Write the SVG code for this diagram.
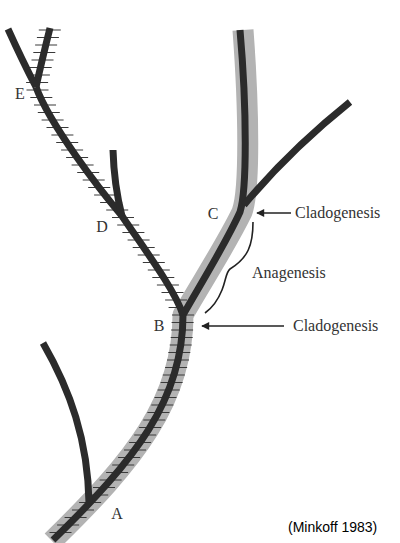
<svg xmlns="http://www.w3.org/2000/svg" width="400" height="543" viewBox="0 0 400 543">
<style>
.band{fill:none;stroke:#b3b3b3;stroke-width:21;stroke-linecap:butt;stroke-linejoin:round}
.hatch{fill:none;stroke:#3a3a3a;stroke-width:1.2}
.line{fill:none;stroke:#2b2b2b;stroke-width:7;stroke-linecap:butt;stroke-linejoin:round}
.lbl{font-family:"Liberation Serif","Times New Roman",serif;font-size:16px;fill:#333}
.arrow{fill:none;stroke:#222;stroke-width:1.6}
.brace{fill:none;stroke:#222;stroke-width:1.6}
</style>
<defs>
<marker id="ah" viewBox="0 0 10 10" refX="9" refY="5" markerWidth="10" markerHeight="8" markerUnits="userSpaceOnUse" orient="auto">
<path d="M0,0 L10,5 L0,10 Z" fill="#222"/>
</marker>
</defs>
<rect width="400" height="543" fill="#fff"/>
<g id="connectors">
<path class="band" d="M52,541 C135,460 183,400 183,315 C200,285 226,245 242,212 C250,190 249,110 243,30"/>
<path class="hatch" d="M38.8,30h22M36.9,37.5h22M35.1,45h22M33.3,52.5h22M31.5,60h22M29.7,67.5h22M27.9,75h22M26.1,82.5h22M26.5,90h22M30.3,97.5h22M34,105h22M37.8,112.5h22M41.6,120h22M46.5,127.5h22M51.4,135h22M56.2,142.5h22M61.1,150h22M66.1,157.5h22M71.6,165h22M77.2,172.5h22M82.7,180h22M88.2,187.5h22M94.1,195h22M100.1,202.5h22M106.2,210h22M112,217.5h22M117.2,225h22M122.4,232.5h22M127.6,240h22M132.7,247.5h22M137.7,255h22M142.8,262.5h22M147.8,270h22M152.3,277.5h22M156.9,285h22M161.5,292.5h22M165.1,300h22M168.6,307.5h22M172,315h22M171.6,322.5h22M171.1,330h22M170.7,337.5h22M169.7,345h22M168.3,352.5h22M167,360h22M165.1,367.5h22M162.8,375h22M160.6,382.5h22M157.7,390h22M154.5,397.5h22M151.3,405h22M147.4,412.5h22M143.3,420h22M139.1,427.5h22M134.2,435h22M129.1,442.5h22M124,450h22M118.1,457.5h22M112.2,465h22M106.1,472.5h22M99.6,480h22M93,487.5h22M86.2,495h22M79.1,502.5h22M72,510h22M64.6,517.5h22M57.1,525h22M49.5,532.5h22"/>
<path class="line" d="M53,540 C135,460 183,400 183,315 C200,285 225,245 240,212 C247,190 247,110 240,30"/>
<path class="line" d="M183,315 C175,290 145,250 122,216 C100,190 50,125 36,87"/>
<path class="line" d="M36,87 Q42,60 50,28"/>
<path class="line" d="M36,87 Q22,60 8,29"/>
<path class="line" d="M122,216 Q114,185 113,150"/>
<path class="line" d="M89,503 C88,440 70,390 43,343"/>
<path class="line" d="M244,205 Q290,150 350,102"/>
<path class="arrow" d="M291,213 H257" marker-end="url(#ah)"/>
<path class="arrow" d="M284,326 H202" marker-end="url(#ah)"/>
<path class="brace" d="M253,222 C253,245 248,258 230,269 C226,272 226,280 222,290 C218,300 212,308 205,313"/>
</g>
<g id="node-A"><text class="lbl" x="117" y="519" text-anchor="middle">A</text></g>
<g id="node-B"><text class="lbl" x="159" y="331" text-anchor="middle">B</text></g>
<g id="node-C"><text class="lbl" x="213" y="219" text-anchor="middle">C</text></g>
<g id="node-D"><text class="lbl" x="102" y="232" text-anchor="middle">D</text></g>
<g id="node-E"><text class="lbl" x="20" y="99" text-anchor="middle">E</text></g>
<g id="label-clado1"><text class="lbl" x="295" y="218">Cladogenesis</text></g>
<g id="label-ana"><text class="lbl" x="252" y="278">Anagenesis</text></g>
<g id="label-clado2"><text class="lbl" x="293" y="331">Cladogenesis</text></g>
<g id="citation"><text x="288" y="532" font-family="'Liberation Sans',Arial,sans-serif" font-size="14" fill="#000">(Minkoff 1983)</text></g>
</svg>
